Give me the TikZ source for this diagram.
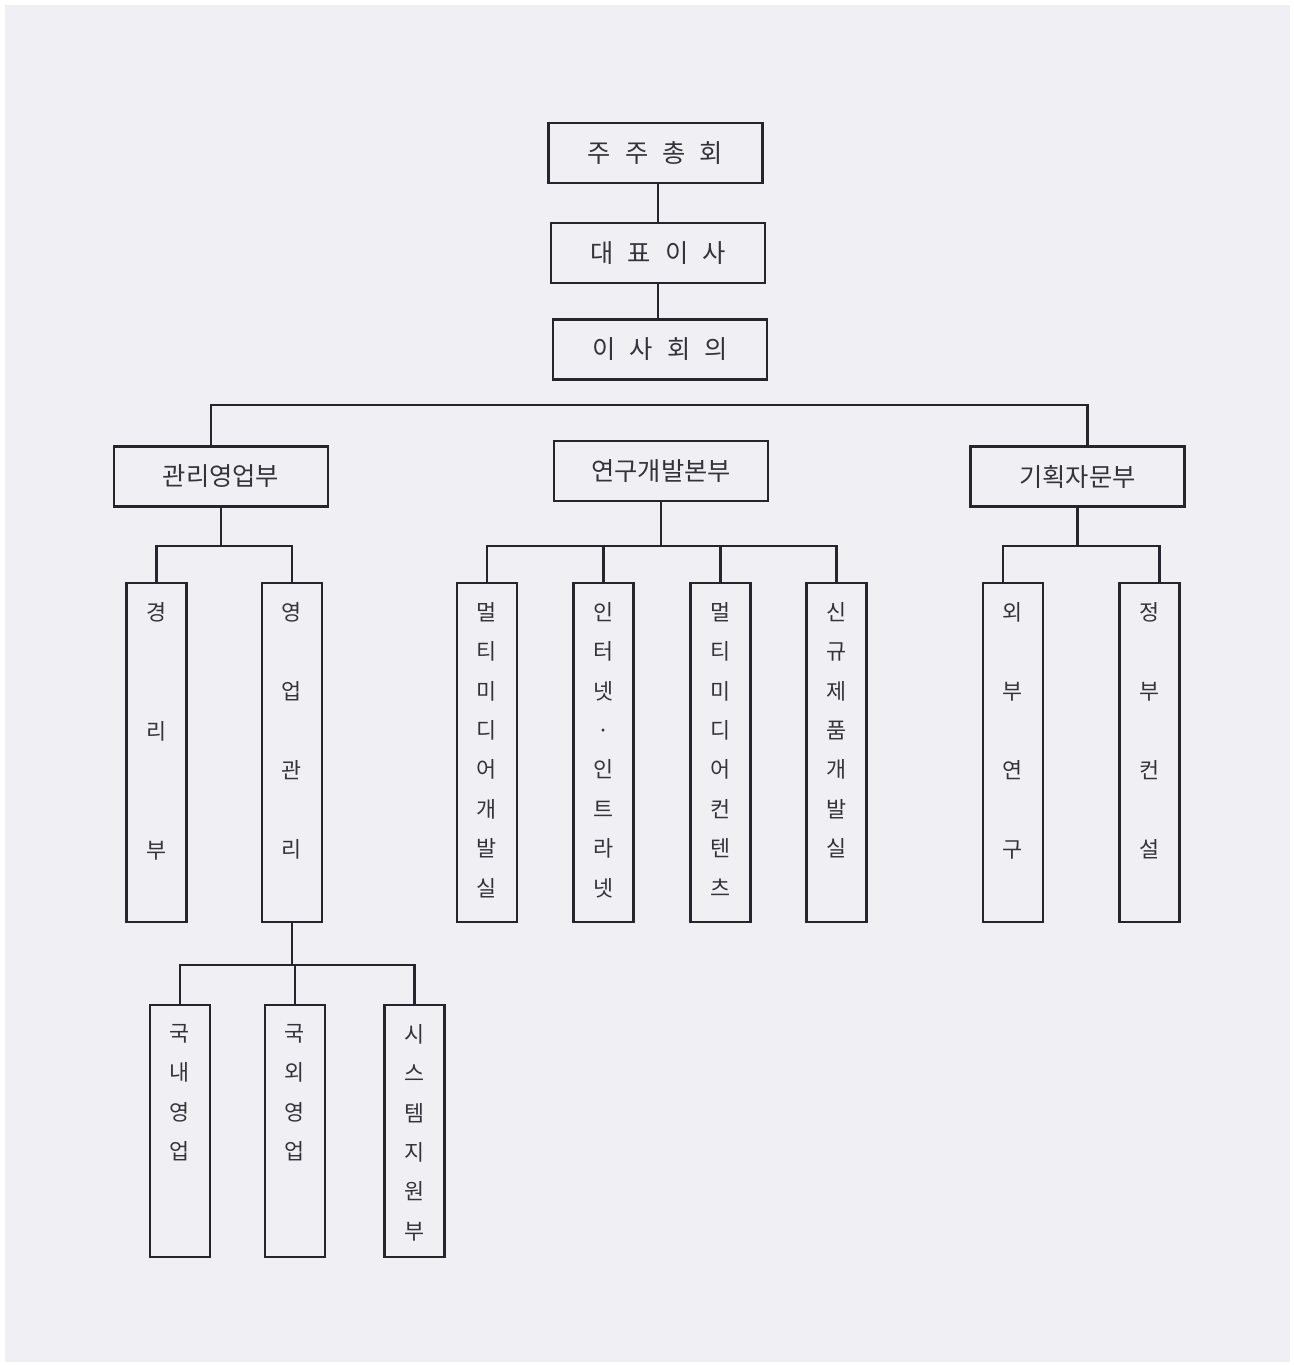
\documentclass[tikz,border=0pt]{standalone}
\usepackage{fontspec}
\newfontfamily\cjk{Noto Sans CJK KR}
\definecolor{paperGray}{RGB}{240, 240, 244}
\definecolor{inkGray}{RGB}{38, 36, 44}
\definecolor{textGray}{RGB}{52, 50, 58}
\usepackage{tikz}
\usetikzlibrary{positioning, calc}

\newcommand{\gp}{\hspace{4pt}}

\begin{document}
\begin{tikzpicture}[
    hbox/.style={rectangle, draw=inkGray, line width=0.8pt, fill=paperGray,
                 minimum width=2.14cm, minimum height=0.60cm, inner sep=0pt,
                 text=textGray, font=\cjk\fontsize{7.2pt}{8pt}\selectfont},
    vbox/.style={rectangle, draw=inkGray, line width=0.7pt, fill=paperGray,
                 minimum width=0.60cm, minimum height=3.39cm, inner sep=0pt},
    lowbox/.style={vbox, minimum height=2.52cm},
    vtext/.style={anchor=north, align=center, inner sep=0pt, text=textGray,
                  font=\cjk\fontsize{6.2pt}{#1}\selectfont},
    vtext/.default=11.2pt,
    link/.style={draw=inkGray, line width=0.6pt},
  ]
    \useasboundingbox (0,0) rectangle (12.94,13.65);
    \fill[white] (0,0) rectangle (12.94,13.65);
    \fill[paperGray] (0.05,0.03) rectangle (12.90,13.60);

    % Top management
    \node[hbox] (GM) at (6.555,12.12) {주\gp 주\gp 총\gp 회};
    \node[hbox] (CEO) at (6.58,11.12) {대\gp 표\gp 이\gp 사};
    \node[hbox] (BOARD) at (6.60,10.155) {이\gp 사\gp 회\gp 의};

    % Divisions
    \node[hbox] (MGMT) at (2.21,8.885) {관리영업부};
    \node[hbox] (RND) at (6.61,8.94) {연구개발본부};
    \node[hbox] (PLAN) at (10.775,8.885) {기획자문부};

    % Departments
    \node[vbox] (ACCT) at (1.565,6.125) {};
    \node[vbox] (SALES) at (2.92,6.125) {};
    \node[vbox] (MMDEV) at (4.87,6.125) {};
    \node[vbox] (NET) at (6.035,6.125) {};
    \node[vbox] (MMCON) at (7.205,6.125) {};
    \node[vbox] (NEWP) at (8.365,6.125) {};
    \node[vbox] (EXTR) at (10.13,6.125) {};
    \node[vbox] (GOVC) at (11.495,6.125) {};

    % Sales teams
    \node[lowbox] (DOM) at (1.80,2.34) {};
    \node[lowbox] (OVS) at (2.95,2.34) {};
    \node[lowbox] (SYS) at (4.145,2.34) {};

    % Vertical labels
    \node[vtext=33.9pt, below=0.2cm of ACCT.north] (ACCTt) {경\\리\\부};
    \node[vtext=22.5pt, below=0.2cm of SALES.north] (SALESt) {영\\업\\관\\리};
    \node[vtext, below=0.2cm of MMDEV.north] (MMDEVt) {멀\\티\\미\\디\\어\\개\\발\\실};
    \node[vtext, below=0.2cm of NET.north] (NETt) {인\\터\\넷\\·\\인\\트\\라\\넷};
    \node[vtext, below=0.2cm of MMCON.north] (MMCONt) {멀\\티\\미\\디\\어\\컨\\텐\\츠};
    \node[vtext, below=0.2cm of NEWP.north] (NEWPt) {신\\규\\제\\품\\개\\발\\실};
    \node[vtext=22.5pt, below=0.2cm of EXTR.north] (EXTRt) {외\\부\\연\\구};
    \node[vtext=22.5pt, below=0.2cm of GOVC.north] (GOVCt) {정\\부\\컨\\설};
    \node[vtext, below=0.2cm of DOM.north] (DOMt) {국\\내\\영\\업};
    \node[vtext, below=0.2cm of OVS.north] (OVSt) {국\\외\\영\\업};
    \node[vtext, below=0.2cm of SYS.north] (SYSt) {시\\스\\템\\지\\원\\부};

    % Connectors
    \draw[link] (GM.south -| CEO.north) -- (CEO.north);
    \draw[link] (CEO.south) -- (CEO.south |- BOARD.north);
    \coordinate (bus1) at (0,9.60);
    \draw[link] (BOARD.south -| CEO.south) -- (BOARD.south -| CEO.south |- RND.north);
    \draw[link] ([xshift=-1mm]MGMT.north) |- (bus1 -| CEO.south) -| ([xshift=1mm]PLAN.north);

    \coordinate (bus2) at (0,8.19);
    \draw[link] (MGMT.south) -- (MGMT.south |- bus2);
    \draw[link] (ACCT.north) |- (bus2 -| MGMT.south) -| (SALES.north);

    \draw[link] (RND.south) -- (RND.south |- bus2);
    \draw[link] (MMDEV.north) |- (bus2 -| RND.south) -| (NEWP.north);
    \draw[link] (NET.north) -- (NET.north |- bus2);
    \draw[link] (MMCON.north) -- (MMCON.north |- bus2);

    \draw[link] (PLAN.south) -- (PLAN.south |- bus2);
    \draw[link] ([xshift=-1mm]EXTR.north) |- (bus2 -| PLAN.south) -| ([xshift=1mm]GOVC.north);

    \coordinate (bus3) at (0,4.00);
    \draw[link] (SALES.south) -- (SALES.south |- bus3);
    \draw[link] (DOM.north) |- (bus3 -| SALES.south) -| (SYS.north);
    \draw[link] (OVS.north) -- (OVS.north |- bus3);
  \end{tikzpicture}
\end{document}
